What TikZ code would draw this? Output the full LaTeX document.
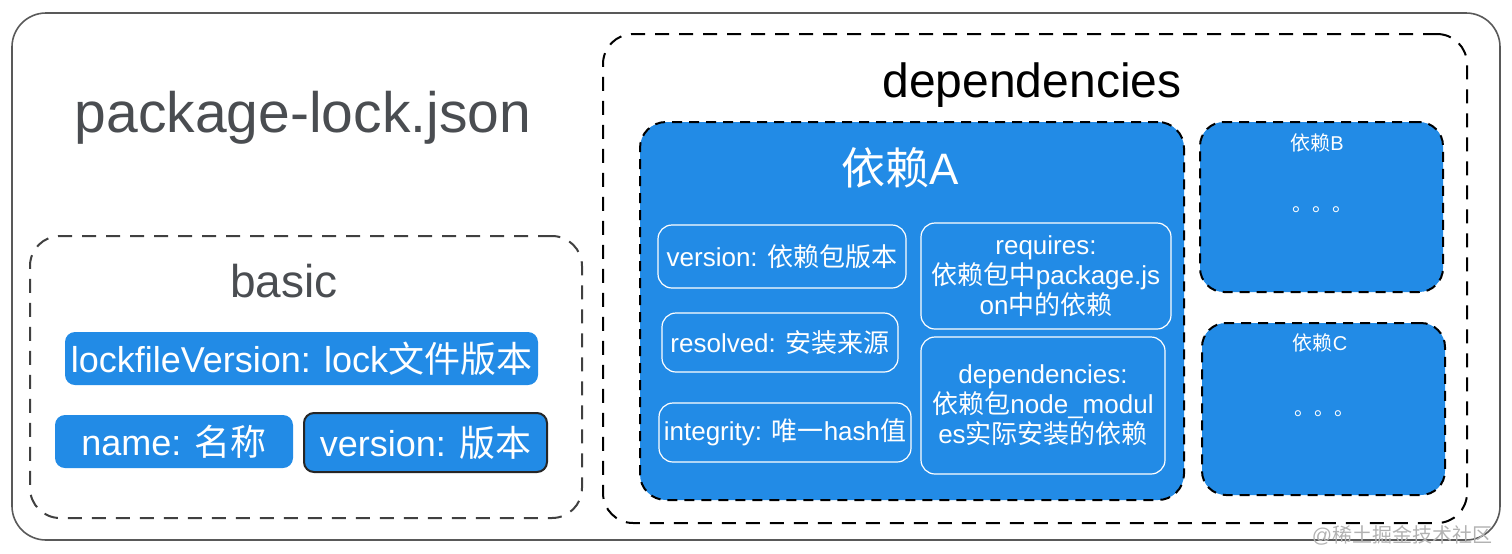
\documentclass[tikz,border=0pt]{standalone}
\usepackage{fontspec}
\setmainfont{Liberation Sans}
\newfontfamily\cjk{Noto Sans CJK SC}
\newcommand\zhtxt[1]{{\cjk #1}}
\definecolor{depblue}{HTML}{228BE6}
\definecolor{inkgrey}{HTML}{4A4D51}
\usetikzlibrary{positioning}

\begin{document}
\begin{tikzpicture}[
  x=0.5pt,y=-0.5pt,
  group/.style={draw=black!75,line width=1pt,dash pattern=on 7pt off 5pt,rounded corners=15pt,inner sep=0pt},
  dep/.style={fill=depblue,draw=black,line width=1pt,dash pattern=on 5pt off 3.5pt,rounded corners=13pt,inner sep=0pt},
  field/.style={fill=depblue,text=white,rounded corners=5pt,inner sep=0pt,font=\fontsize{18}{20}\selectfont},
  entry/.style={draw=white,line width=0.6pt,text=white,rounded corners=7pt,inner sep=0pt,align=center,font=\fontsize{13}{15}\selectfont},
  small/.style={text=white,font=\fontsize{10}{12}\selectfont}
]
  \useasboundingbox (0,0) rectangle (1512,553);

  \node[draw=black!65,line width=0.8pt,rounded corners=17pt,minimum width=744pt,minimum height=263.5pt] (lock) at (756,276.5) {};
  \node[anchor=base,text=inkgrey,font=\fontsize{28.5}{30}\selectfont] (locktitle) at (303,132) {package-lock.json};

  \node[group,minimum width=276pt,minimum height=141pt] (basic) at (306,377) {};
  \node[anchor=base,text=inkgrey,font=\fontsize{23}{25}\selectfont] (basictitle) at (284,297) {basic};
  \node[field,minimum width=236.5pt,minimum height=26.5pt] (lockver) at (301.5,358.5) {lockfileVersion: lock\zhtxt{文件版本}};
  \node[field,minimum width=119pt,minimum height=26.5pt] (name) at (174,441.5) {name: \zhtxt{名称}};
  \node[field,draw=black!85,line width=1pt,minimum width=121.5pt,minimum height=29.5pt] (version) at (425.5,442.5) {version: \zhtxt{版本}};

  \node[group,draw=black,minimum width=432pt,minimum height=244.5pt] (deps) at (1035,278.5) {};
  \node[anchor=base,font=\fontsize{24}{26}\selectfont] (depstitle) at (1032,97) {dependencies};

  \node[dep,minimum width=272pt,minimum height=189pt] (depA) at (912,311) {};
  \node[anchor=base,text=white,font=\fontsize{22}{24}\selectfont] (depAtitle) at (900,184) {\zhtxt{依赖}A};
  \node[entry,minimum width=124pt,minimum height=31.5pt] (aver) at (782,256.5) {version: \zhtxt{依赖包版本}};
  \node[entry,minimum width=118pt,minimum height=29.5pt] (ares) at (780,342.5) {resolved: \zhtxt{安装来源}};
  \node[entry,minimum width=126pt,minimum height=29.5pt] (aint) at (785,432.5) {integrity: \zhtxt{唯一}hash\zhtxt{值}};
  \node[entry,minimum width=125pt,minimum height=53pt] (areq) at (1046,276) {requires:\\\zhtxt{依赖包中}package.js\\on\zhtxt{中的依赖}};
  \node[entry,minimum width=122pt,minimum height=68.5pt] (adeps) at (1043,405.5) {dependencies:\\\zhtxt{依赖包}node\_modul\\es\zhtxt{实际安装的依赖}};

  \node[dep,rounded corners=12pt,minimum width=121.5pt,minimum height=85pt] (depB) at (1321.5,207) {};
  \node[small] (depBtitle) at (1317,143) {\zhtxt{依赖}B};
  \node[small] (depBdots) at (1322,210) {\zhtxt{。。。}};

  \node[dep,rounded corners=12pt,minimum width=121.5pt,minimum height=86pt] (depC) at (1323.5,409) {};
  \node[small] (depCtitle) at (1320,343) {\zhtxt{依赖}C};
  \node[small] (depCdots) at (1324,414) {\zhtxt{。。。}};

  \node[text=black!30,font=\fontsize{10}{12}\selectfont] (mark) at (1402,535) {@\zhtxt{稀土掘金技术社区}};
\end{tikzpicture}
\end{document}
